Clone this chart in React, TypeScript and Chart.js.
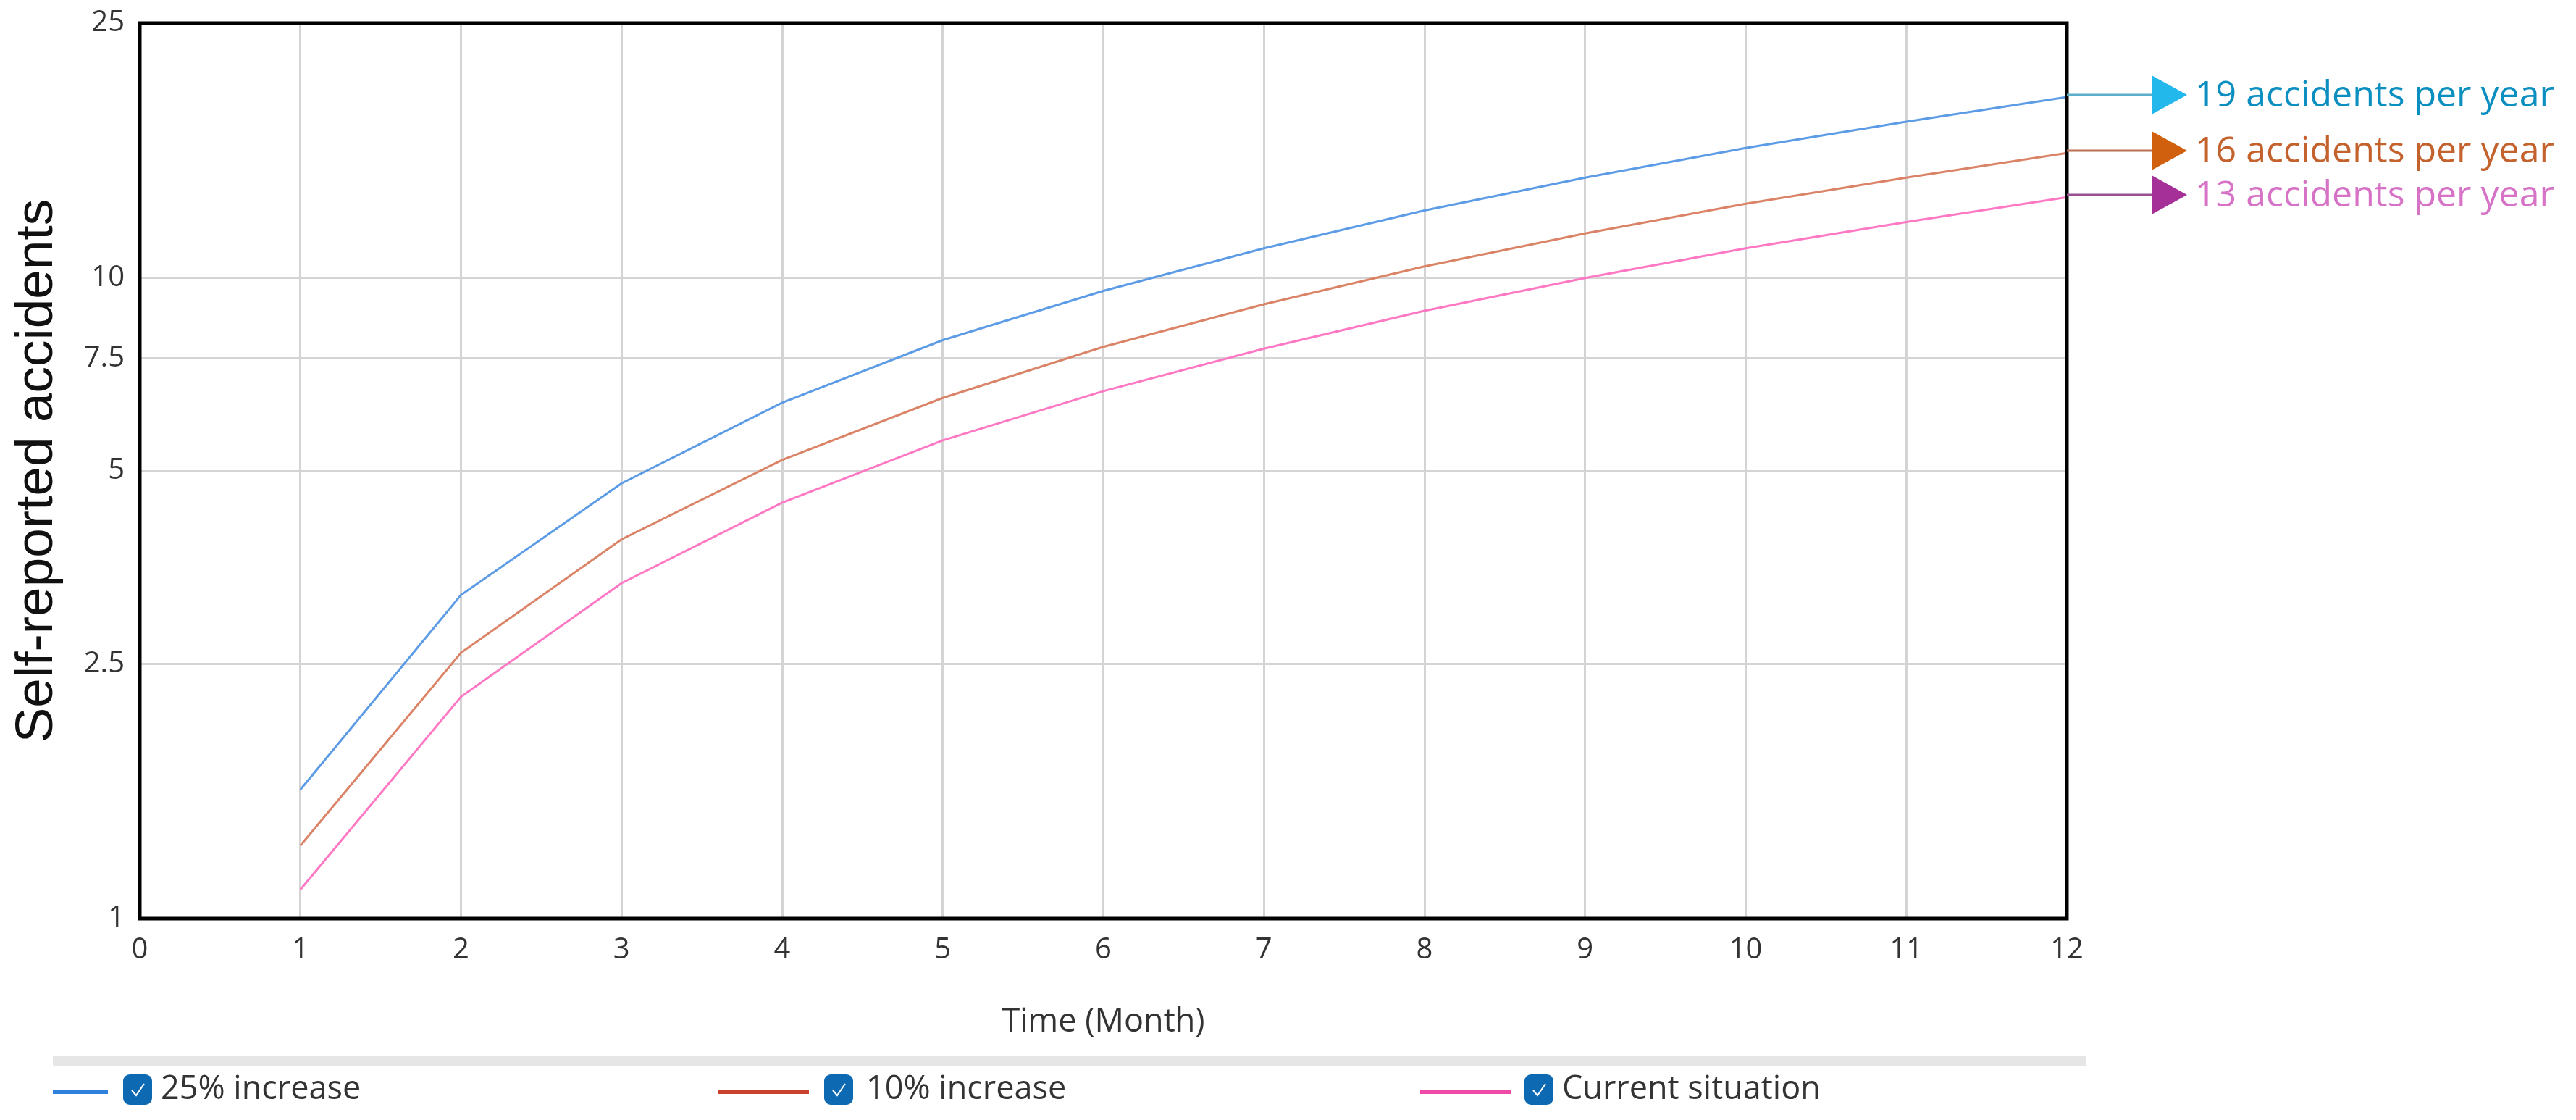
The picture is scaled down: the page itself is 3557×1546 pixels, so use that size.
import React, { useEffect, useRef } from "react";
import { Chart, registerables } from "chart.js";

Chart.register(...registerables);

// ---- data ----
const months = [1, 2, 3, 4, 5, 6, 7, 8, 9, 10, 11, 12];
const increase25 = [1.59, 3.2, 4.78, 6.39, 8.0, 9.55, 11.13, 12.75, 14.35, 15.96, 17.54, 19.17];
const increase10 = [1.3, 2.6, 3.91, 5.2, 6.5, 7.81, 9.1, 10.43, 11.74, 13.06, 14.35, 15.68];
const currentSituation = [1.11, 2.22, 3.34, 4.46, 5.58, 6.66, 7.76, 8.89, 10.0, 11.13, 12.23, 13.37];
const seriesNames = ["25% increase", "10% increase", "Current situation"];
const yTicks = [1, 2.5, 5, 7.5, 10, 25];
const xTicks = [0, 1, 2, 3, 4, 5, 6, 7, 8, 9, 10, 11, 12];
const annotationLabels = ["19 accidents per year", "16 accidents per year", "13 accidents per year"];
const yTitle = "Self-reported accidents";
const xTitle = "Time (Month)";

// ---- styles ----
const W = 3557;
const H = 1546;
const lineColors = ["#5C9BE6", "#DA8366", "#FF78C4"];
const legendLineColors = ["#2F80DD", "#C9422B", "#EE4AA6"];
const connectorColors = ["#5AAEC9", "#B87050", "#985090"];
const arrowColors = ["#22B8EC", "#D0600E", "#A53097"];
const labelColors = ["#0B8EC0", "#C4622D", "#D673C6"];
const legendLineX = [[73, 149], [991, 1117], [1961, 2086]];
const legendBoxX = [170, 1138, 2105];
const legendTextX = [222, 1196, 2157];

const decorPlugin = {
  id: "decor",
  afterDatasetsDraw(chart: any) {
    const { ctx, chartArea: a } = chart;
    ctx.save();
    ctx.strokeStyle = "#000";
    ctx.lineWidth = 5;
    ctx.strokeRect(a.left, a.top, a.right - a.left, a.bottom - a.top);
    ctx.restore();
  },
  afterDraw(chart: any) {
    const { ctx, chartArea: a } = chart;
    const ys = chart.scales.y;
    ctx.save();
    // annotations
    chart.data.datasets.forEach((ds: any, i: number) => {
      const last = ds.data[ds.data.length - 1].y;
      const py = Math.round(ys.getPixelForValue(last)) - 3;
      const arrowL = 2971;
      const arrowR = 3020;
      ctx.strokeStyle = connectorColors[i];
      ctx.lineWidth = 3;
      ctx.beginPath();
      ctx.moveTo(a.right, py);
      ctx.lineTo(arrowL, py);
      ctx.stroke();
      ctx.fillStyle = arrowColors[i];
      ctx.beginPath();
      ctx.moveTo(arrowL, py - 27);
      ctx.lineTo(arrowR, py);
      ctx.lineTo(arrowL, py + 27);
      ctx.closePath();
      ctx.fill();
      ctx.fillStyle = labelColors[i];
      ctx.font = "500 50px 'Open Sans'";
      ctx.textBaseline = "middle";
      ctx.textAlign = "left";
      ctx.fillText(annotationLabels[i], 3031, py + 2);
    });

    // legend
    ctx.fillStyle = "#E6E6E6";
    ctx.fillRect(73, 1458, 2881 - 73, 13);
    const cy = 1504;
    seriesNames.forEach((name, i) => {
      ctx.strokeStyle = legendLineColors[i];
      ctx.lineWidth = 6;
      ctx.beginPath();
      ctx.moveTo(legendLineX[i][0], cy + 3);
      ctx.lineTo(legendLineX[i][1], cy + 3);
      ctx.stroke();
      const bx = legendBoxX[i];
      const by = cy - 21;
      ctx.fillStyle = "#0E69B3";
      ctx.beginPath();
      (ctx as any).roundRect(bx, by, 40, 42, 9);
      ctx.fill();
      ctx.strokeStyle = "#FFFFFF";
      ctx.lineWidth = 2;
      ctx.beginPath();
      ctx.moveTo(bx + 12, by + 22);
      ctx.lineTo(bx + 18, by + 29);
      ctx.lineTo(bx + 29, by + 13);
      ctx.stroke();
      ctx.fillStyle = "#333333";
      ctx.font = "45px 'Open Sans'";
      ctx.textBaseline = "middle";
      ctx.textAlign = "left";
      ctx.fillText(name, legendTextX[i], cy);
    });
    ctx.restore();
  },
};

export default function App() {
  const ref = useRef<HTMLCanvasElement | null>(null);

  useEffect(() => {
    document.body.style.margin = "0";
    document.body.style.overflow = "hidden";
    const canvas = ref.current;
    if (!canvas) return;
    const series = [increase25, increase10, currentSituation];
    const chart = new Chart(canvas, {
      type: "line",
      data: {
        datasets: series.map((vals, i) => ({
          label: seriesNames[i],
          data: months.map((m, j) => ({ x: m, y: vals[j] })),
          borderColor: lineColors[i],
          backgroundColor: lineColors[i],
          borderWidth: 3,
          pointRadius: 0,
          tension: 0,
          fill: false,
        })),
      },
      options: {
        animation: false,
        responsive: false,
        maintainAspectRatio: false,
        devicePixelRatio: 1,
        layout: { padding: { left: 0, top: 32, right: 703, bottom: 100 } },
        plugins: {
          legend: { display: false },
          tooltip: { enabled: false },
        },
        scales: {
          x: {
            type: "linear",
            min: 0,
            max: 12,
            afterBuildTicks: (s: any) => {
              s.ticks = xTicks.map((v) => ({ value: v }));
            },
            afterFit: (s: any) => {
              s.height = 178;
              s.paddingLeft = 0;
              s.paddingRight = 0;
            },
            grid: { color: "#D4D4D4", lineWidth: 3, drawTicks: false },
            border: { display: false },
            ticks: {
              color: "#333333",
              font: { family: "'Open Sans'", size: 40 },
              padding: 20,
              autoSkip: false,
              maxRotation: 0,
            },
            title: {
              display: true,
              text: xTitle,
              color: "#333333",
              font: { family: "'Open Sans'", size: 45 },
              padding: { top: 0, bottom: 8 },
            },
          },
          y: {
            type: "logarithmic",
            min: 1,
            max: 25,
            afterBuildTicks: (s: any) => {
              s.ticks = yTicks.map((v) => ({ value: v }));
            },
            afterFit: (s: any) => {
              s.width = 193;
              s.paddingTop = 0;
              s.paddingBottom = 0;
            },
            grid: { color: "#D4D4D4", lineWidth: 3, drawTicks: false },
            border: { display: false },
            ticks: {
              color: "#333333",
              font: { family: "'Open Sans'", size: 40 },
              padding: 21,
              autoSkip: false,
              callback: (v: any) => String(v),
            },
            title: {
              display: true,
              text: yTitle,
              color: "#111111",
              font: { family: "'Liberation Sans'", size: 73 },
              padding: { top: 8, bottom: 0 },
            },
          },
        },
      },
      plugins: [decorPlugin],
    } as any);
    return () => chart.destroy();
  }, []);

  return (
    <div style={{ width: W, height: H, position: "relative" }}>
      <canvas ref={ref} width={W} height={H} style={{ display: "block", width: W, height: H }} />
    </div>
  );
}
